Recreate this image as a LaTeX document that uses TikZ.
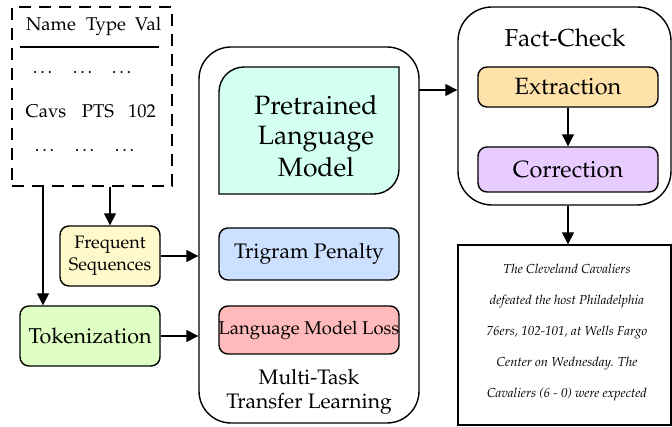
\documentclass[tikz,border=0pt]{standalone}
\usepackage[T1]{fontenc}
\usepackage{mathpazo}
\usetikzlibrary{arrows.meta}
\definecolor{cfs}{HTML}{FFF9CC}
\definecolor{ctok}{HTML}{E0FFC4}
\definecolor{cplm}{HTML}{D4FFF3}
\definecolor{ctri}{HTML}{CCE0FF}
\definecolor{closs}{HTML}{FFBBBB}
\definecolor{cext}{HTML}{FFE1AA}
\definecolor{ccor}{HTML}{E8CCFF}
\tikzset{
  arr/.style={line width=1.4pt,-{Triangle[length=12pt,width=12pt]}},
  rbox/.style={draw,line width=1.4pt,rounded corners=9pt,inner sep=0pt,align=center},
  fsz/.style={font=\fontsize{#1}{#1}\selectfont},
  cell/.style={font=\fontsize{18.5}{18.5}\selectfont,anchor=base,inner sep=0pt}
}
\begin{document}
\begin{tikzpicture}[x=1pt,y=-1pt]
\useasboundingbox (0,0) rectangle (672,427);
% table
\node[draw,dashed,dash pattern=on 12pt off 8pt,line width=1.4pt,minimum width=160pt,minimum height=179pt,inner sep=0pt] (tbl) at (92,96.5) {};
\node[cell] (h1) at (51,30.5) {Name};
\node[cell] (h2) at (106,30.5) {Type};
\node[cell] (h3) at (148,30.5) {Val};
\coordinate (rl) at (20,47);
\coordinate (rr) at (159,47);
\draw[line width=1.3pt] (rl) -- (rr);
\node[cell] (d1) at (44,73.5) {\dots};
\node[cell] (d2) at (84,73.5) {\dots};
\node[cell] (d3) at (123,73.5) {\dots};
\node[cell] (c1) at (46,117.5) {Cavs};
\node[cell] (c2) at (98,117.5) {PTS};
\node[cell] (c3) at (142,117.5) {102};
\node[cell] (e1) at (46,151.5) {\dots};
\node[cell] (e2) at (86,151.5) {\dots};
\node[cell] (e3) at (126,151.5) {\dots};
% left boxes
\node[rbox,fill=cfs,minimum width=100pt,minimum height=60pt,fsz=18] (fs) at (110,256) {Frequent\\[4pt]Sequences};
\node[rbox,fill=ctok,minimum width=140pt,minimum height=60pt,fsz=21.5] (tok) at (90,336) {Tokenization};
% big box
\node[draw,line width=1.4pt,rounded corners=32pt,minimum width=220pt,minimum height=376pt,inner sep=0pt] (big) at (309,235) {};
\draw[line width=1.4pt,fill=cplm] (219,194) -- (219,92) arc[start angle=180,end angle=90,radius=25pt] -- (399,67) -- (399,169) arc[start angle=0,end angle=-90,radius=25pt] -- cycle;
\node[fsz=26.5,align=center,inner sep=0pt] (plm) at (316,136) {Pretrained\\[4pt]Language\\[4pt]Model};
\node[rbox,fill=ctri,minimum width=180pt,minimum height=52pt,fsz=21] (tri) at (309,254) {Trigram Penalty};
\node[rbox,fill=closs,minimum width=180pt,minimum height=48pt,fsz=18.5] (loss) at (309,330) {\hspace{-5pt}Language Model Loss\hspace{-5pt}};
\node[fsz=21,align=center,inner sep=0pt] (mtl) at (309,392) {Multi-Task\\[3pt]Transfer Learning};
% fact-check
\node[draw,line width=1.4pt,rounded corners=34pt,minimum width=213pt,minimum height=198pt,inner sep=0pt] (fc) at (564.5,106) {};
\node[fsz=24.5] (fct) at (565,38) {Fact-Check};
\node[rbox,fill=cext,minimum width=180pt,minimum height=40pt,fsz=23.5] (ext) at (568,87) {Extraction};
\node[rbox,fill=ccor,minimum width=180pt,minimum height=45pt,fsz=23.5] (cor) at (568,169.5) {Correction};
\node[draw,line width=1.4pt,minimum width=213pt,minimum height=180pt,inner sep=0pt] (txt) at (564.5,335) {};
\node[align=center,inner sep=0pt,font=\fontsize{13}{31}\selectfont\itshape] (txtc) at (567,333) {The Cleveland Cavaliers\\defeated the host Philadelphia\\76ers, 102-101, at Wells Fargo\\Center on Wednesday. The\\Cavaliers (6 - 0) were expected};
% connectors
\coordinate (t1) at (43,186);
\draw[arr] (t1) -- (t1 |- tok.north);
\draw[arr] (tbl.south -| fs) -- (fs.north);
\draw[arr] (fs.east) -- (fs.east -| big.west);
\draw[arr] (tok.east) -- (tok.east -| big.west);
\coordinate (b1) at (419,90);
\draw[arr] (b1) -- (b1 -| fc.west);
\draw[arr] (ext.south) -- (cor.north);
\draw[arr] (fc.south -| ext) -- (txt.north -| ext);
\end{tikzpicture}
\end{document}
